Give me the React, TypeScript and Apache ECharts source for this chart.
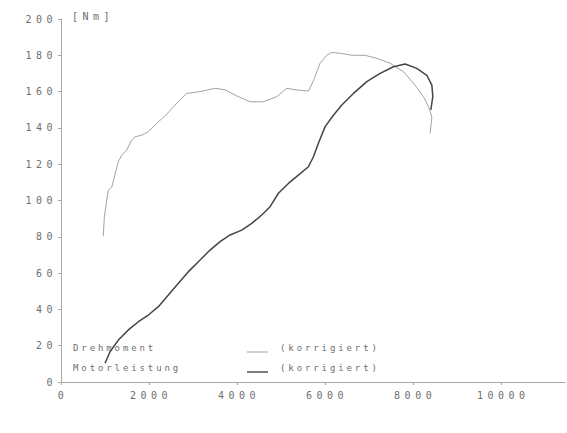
import React, { useEffect, useRef } from "react";
import * as echarts from "echarts";

const torqueRpm = [960, 985, 1038, 1075, 1152, 1212, 1303, 1379, 1492, 1606, 1682, 1833, 1985, 2174, 2402, 2591, 2705, 2856, 3159, 3500, 3727, 3993, 4295, 4598, 4902, 5129, 5356, 5621, 5735, 5886, 6038, 6152, 6379, 6606, 6909, 7175, 7477, 7780, 8008, 8235, 8349, 8425, 8386];
const torqueNm = [80.4, 91, 100, 105.8, 107.3, 113, 121.4, 125, 127.8, 133.3, 135.1, 136, 137.9, 142.5, 147.5, 152.6, 155.4, 159, 160, 161.8, 161, 157.6, 154.4, 154.4, 157.2, 161.8, 160.9, 160.3, 166, 175.6, 180, 181.6, 181, 180, 180, 178.3, 175.6, 171, 164.6, 157.2, 151.7, 146, 137];

const powerRpm = [1000, 1114, 1303, 1530, 1758, 1985, 2212, 2439, 2667, 2894, 3121, 3386, 3614, 3841, 4106, 4333, 4561, 4750, 4939, 5166, 5393, 5621, 5735, 5848, 6000, 6189, 6379, 6644, 6947, 7250, 7553, 7818, 8083, 8311, 8425, 8447, 8402];
const powerKw = [10.3, 16.7, 23.1, 28.7, 33.2, 36.9, 41.5, 47.9, 54.4, 60.8, 66.3, 72.7, 77.3, 81, 83.7, 87.4, 92, 96.6, 104, 109.4, 114, 118.6, 124.1, 131.5, 140.7, 147, 152.6, 159, 165.5, 170, 173.7, 175.2, 172.8, 169, 163.6, 157.2, 149.9];

const seriesNames = ["Drehmoment", "Motorleistung"];
const legendNote = "(korrigiert)";
const yUnit = "[Nm]";

const FONT = "DejaVu Sans Mono";

export default function App() {
  const ref = useRef<HTMLDivElement>(null);
  useEffect(() => {
    if (!ref.current) return;
    const chart = echarts.init(ref.current, null, { renderer: "svg" });
    const torque = torqueRpm.map((r, i) => [r, torqueNm[i]]);
    const power = powerRpm.map((r, i) => [r, powerKw[i]]);
    chart.setOption({
      animation: false,
      backgroundColor: "#ffffff",
      grid: { left: 61, right: 2, top: 19, bottom: 51 },
      xAxis: {
        type: "value",
        min: 0,
        max: 11450,
        interval: 2000,
        splitLine: { show: false },
        axisLine: { lineStyle: { color: "#a8a8a8", width: 1 } },
        axisTick: { show: true, length: 3, lineStyle: { color: "#a8a8a8" } },
        axisLabel: {
          color: "#6e6e6e",
          fontFamily: FONT,
          fontSize: 10,
          margin: 8,
          showMaxLabel: false,
          padding: [0, 0, 0, 4],
          formatter: (v: number) => (v % 2000 === 0 ? String(v) : ""),
        },
      },
      yAxis: {
        type: "value",
        min: 0,
        max: 200,
        interval: 20,
        name: yUnit,
        nameLocation: "end",
        nameGap: 3,
        nameTextStyle: {
          color: "#6e6e6e",
          fontFamily: FONT,
          fontSize: 10,
          align: "left",
          verticalAlign: "middle",
          padding: [0, 0, 0, 11],
        },
        splitLine: { show: false },
        axisLine: { show: true, lineStyle: { color: "#a8a8a8", width: 1 } },
        axisTick: { show: true, length: 3, lineStyle: { color: "#a8a8a8" } },
        axisLabel: { color: "#6e6e6e", fontFamily: FONT, fontSize: 10, margin: 4 },
      },
      series: [
        {
          name: seriesNames[0],
          type: "line",
          data: torque,
          showSymbol: false,
          lineStyle: { color: "#8a8a8a", width: 0.8 },
        },
        {
          name: seriesNames[1],
          type: "line",
          data: power,
          showSymbol: false,
          lineStyle: { color: "#454545", width: 1.5 },
        },
      ],
      graphic: [
        { type: "text", left: 73, top: 343, style: { text: seriesNames[0], fill: "#6e6e6e", font: `9px '${FONT}'` } },
        { type: "text", left: 73, top: 363, style: { text: seriesNames[1], fill: "#6e6e6e", font: `9px '${FONT}'` } },
        { type: "line", shape: { x1: 247, y1: 352, x2: 268, y2: 352 }, style: { stroke: "#8a8a8a", lineWidth: 0.8 } },
        { type: "line", shape: { x1: 247, y1: 372, x2: 268, y2: 372 }, style: { stroke: "#454545", lineWidth: 1.4 } },
        { type: "text", left: 280, top: 343, style: { text: legendNote, fill: "#6e6e6e", font: `9px '${FONT}'` } },
        { type: "text", left: 280, top: 363, style: { text: legendNote, fill: "#6e6e6e", font: `9px '${FONT}'` } },
      ],
    });
    return () => chart.dispose();
  }, []);
  return (
    <>
      <style>{`
        .dyno svg text[style*="10px"] { letter-spacing: 4.5px; }
        .dyno svg text[style*="9px"] { letter-spacing: 2.9px; }
      `}</style>
      <div className="dyno" ref={ref} style={{ position: "fixed", left: 0, top: 0, width: 567, height: 433 }} />
    </>
  );
}
